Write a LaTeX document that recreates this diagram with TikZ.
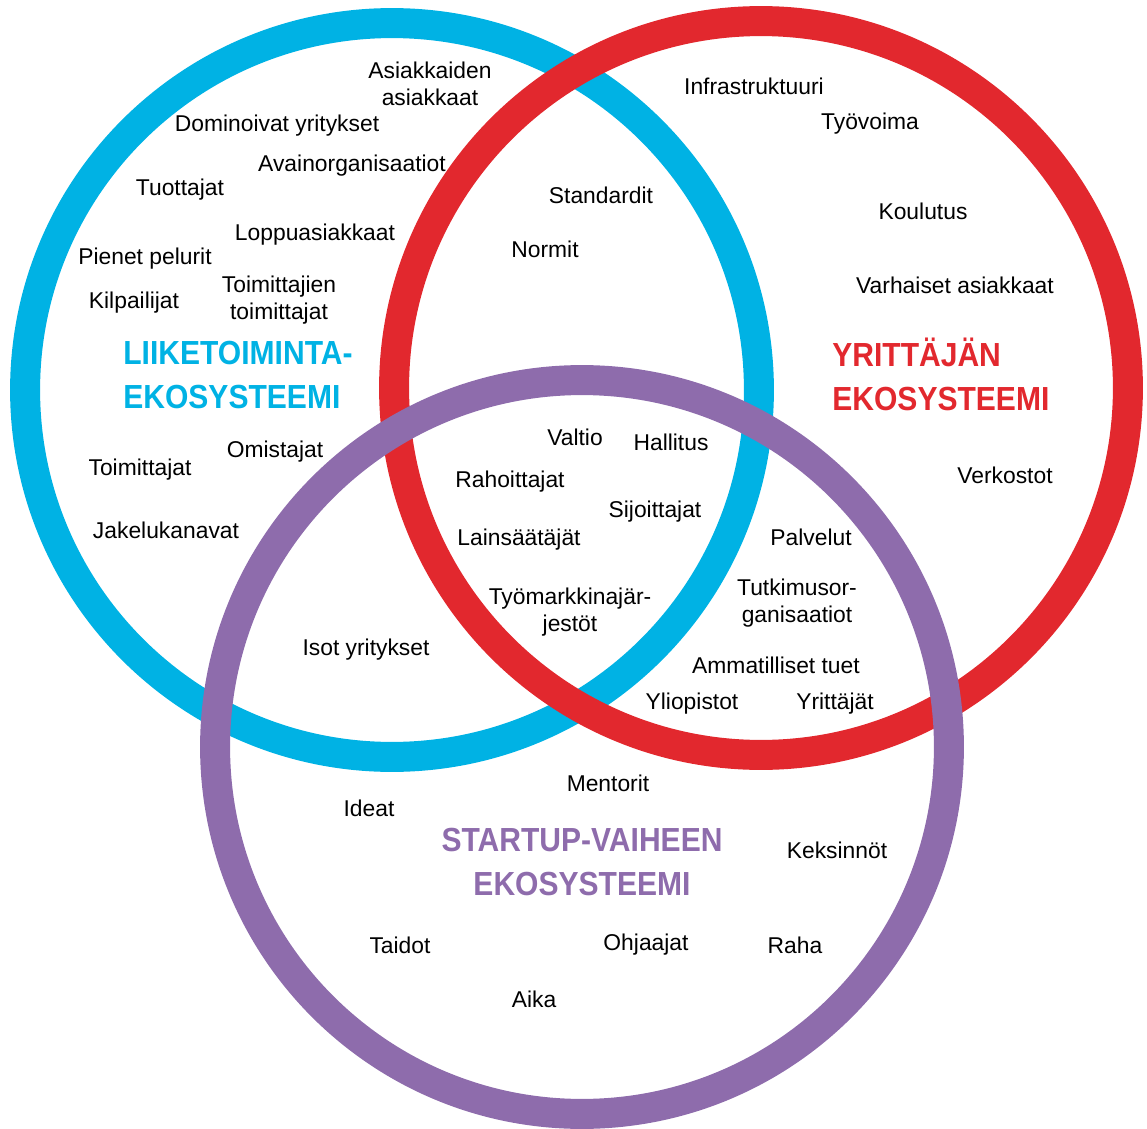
\documentclass[tikz,border=0pt]{standalone}
\usepackage{fontspec}
\setmainfont{Liberation Sans}
\newfontfamily\headfont{Liberation Sans}[FakeStretch=0.9]
\usepackage{xcolor}
\usetikzlibrary{positioning}
\definecolor{liikeblue}{RGB}{0,178,228}
\definecolor{yrittred}{RGB}{226,40,46}
\definecolor{startpurple}{RGB}{142,108,172}

\begin{document}
\begin{tikzpicture}[x=0.02cm,y=-0.02cm,
	ring/.style={line width=0.6cm},
	word/.style={inner sep=0pt,align=center,yshift=-1.7pt,font=\fontsize{13}{15.3}\selectfont},
	title/.style={inner sep=0pt,font=\headfont\bfseries\fontsize{19}{25}\selectfont}]
	\useasboundingbox (0,0) rectangle (1147,1129);
	
	% the three circles
	\coordinate (liike) at (392,390);
	\coordinate (yritt) at (761,388);
	\coordinate (start) at (582,747);
	\draw[ring,liikeblue] (liike) circle[radius=7.34cm];
	\draw[ring,yrittred] (yritt) circle[radius=7.34cm];
	\draw[ring,startpurple] (start) circle[radius=7.34cm];
	
	% headings
	\node[title,liikeblue,align=left,anchor=west] (liike title) at (123,375) {LIIKETOIMINTA-\\EKOSYSTEEMI};
	\node[title,yrittred,align=left,anchor=west] (yritt title) at (832,374) {YRITTÄJÄN\\EKOSYSTEEMI};
	\node[title,startpurple,align=center] (start title) at (582,862) {STARTUP-VAIHEEN\\EKOSYSTEEMI};
	
	% business ecosystem
	\node[word] (asiakk) at (430,81) {Asiakkaiden\\asiakkaat};
	\node[word] (domin) at (277,123) {Dominoivat yritykset};
	\node[word] (avain) at (352,163) {Avainorganisaatiot};
	\node[word] (tuott) at (180,187) {Tuottajat};
	\node[word] (loppu) at (315,232) {Loppuasiakkaat};
	\node[word] (pienet) at (145,256) {Pienet pelurit};
	\node[word] (toimtoim) at (279,297) {Toimittajien\\toimittajat};
	\node[word] (kilp) at (134,300) {Kilpailijat};
	\node[word] (omist) at (275,449) {Omistajat};
	\node[word] (toim) at (140,467) {Toimittajat};
	\node[word] (jakelu) at (166,527) {Jakelukanavat};
	
	% entrepreneur ecosystem
	\node[word] (infra) at (754,83) {Infrastruktuuri};
	\node[word] (tyovoima) at (870,121) {Työvoima};
	\node[word] (koulutus) at (923,208) {Koulutus};
	\node[word] (varhaiset) at (955,282) {Varhaiset asiakkaat};
	\node[word] (verkostot) at (1005,472) {Verkostot};
	
	% blue and red
	\node[word] (standardit) at (601,192) {Standardit};
	\node[word] (normit) at (545,246) {Normit};
	
	% all three
	\node[word] (valtio) at (575,434) {Valtio};
	\node[word] (hallitus) at (671,439) {Hallitus};
	\node[word] (rahoitt) at (510,479) {Rahoittajat};
	\node[word] (sijoitt) at (655,509) {Sijoittajat};
	\node[word] (lains) at (519,537) {Lainsäätäjät};
	\node[word] (tyomark) at (570,609) {Työmarkkinajär-\\jestöt};
	
	% red and purple
	\node[word] (palvelut) at (811,534) {Palvelut};
	\node[word] (tutkimus) at (797,600) {Tutkimusor-\\ganisaatiot};
	\node[word] (ammat) at (776,662) {Ammatilliset tuet};
	\node[word] (yliop) at (692,701) {Yliopistot};
	\node[word] (yrittajat) at (835,701) {Yrittäjät};
	
	% blue and purple
	\node[word] (isot) at (366,647) {Isot yritykset};
	
	% startup ecosystem
	\node[word] (mentorit) at (608,780) {Mentorit};
	\node[word] (ideat) at (369,805) {Ideat};
	\node[word] (keksinnot) at (837,847) {Keksinnöt};
	\node[word] (taidot) at (400,942) {Taidot};
	\node[word] (ohjaajat) at (646,942) {Ohjaajat};
	\node[word] (raha) at (795,942) {Raha};
	\node[word] (aika) at (534,996) {Aika};
	
\end{tikzpicture}
\end{document}
